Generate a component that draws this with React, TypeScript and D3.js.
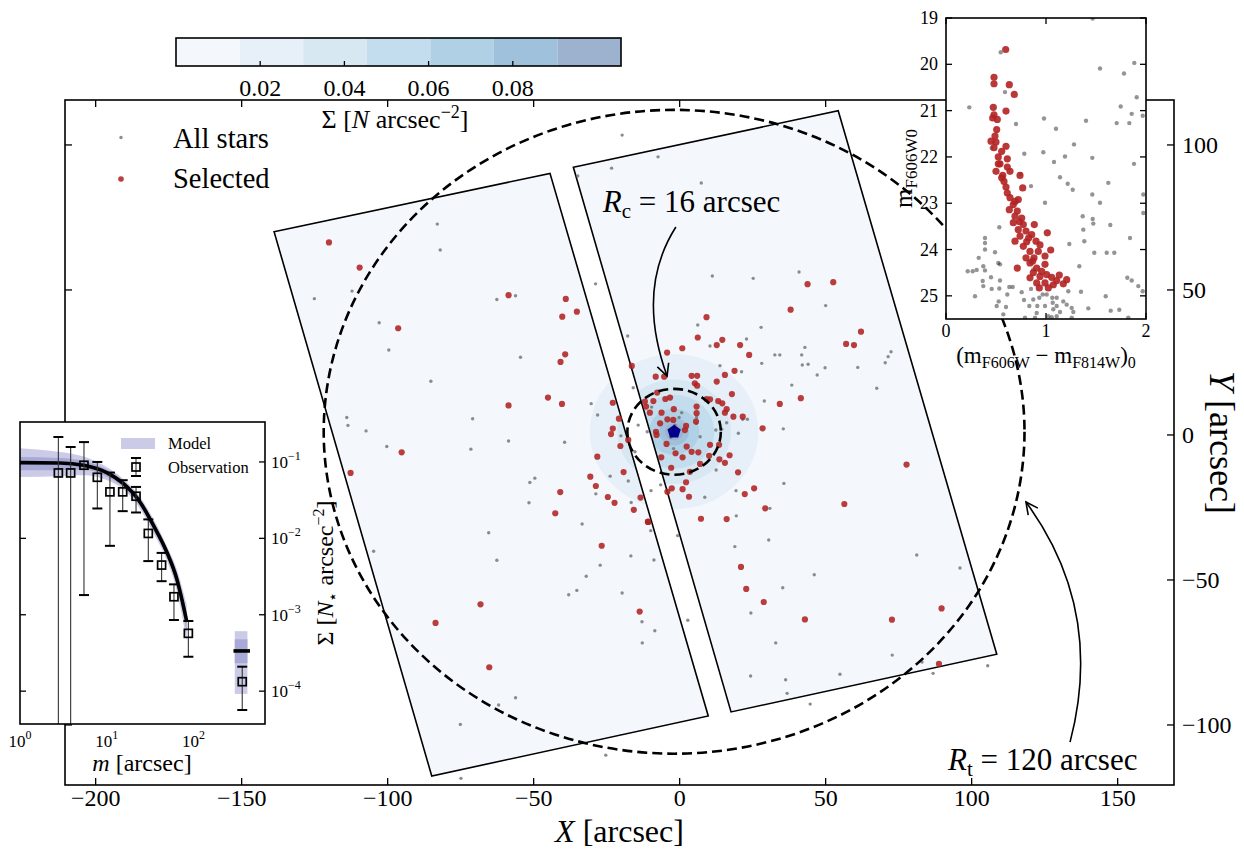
import React from 'react';
import * as d3 from 'd3';

const SERIF = '"Liberation Serif", "Times New Roman", Times, serif';

// ---------------- surface-density colour scale (N arcsec^-2) ----------------
const densityLevels = [0, 0.0151, 0.0302, 0.0453, 0.0604, 0.0755, 0.0906, 0.1057];
const densityColors = ['#f4f8fd', '#e7f0f8', '#d7e8f2', '#c3ddee', '#b0d0e6', '#a0c1dc', '#9cb2cf'];
const densityTicks = [0.02, 0.04, 0.06, 0.08];

// ---------------- cluster geometry (arcsec) ----------------
const clusterCenter: [number, number] = [-1.9, 1.1];
const coreRadius = 16;
const tidalRadius = 120;
const skySquash = 0.925; // vertical axis ratio of the on-sky circles
// density contour boundaries, from the 0.015 level inwards
const contourRadii = [28.9, 19.5, 13.8, 8.6, 5.1, 3.2];

// ACS chip footprints (corners, arcsec)
const chipLeft: [number, number][] = [[-138.9, 70.1], [-44.4, 90.2], [9.8, -96.9], [-84.9, -117.6]];
const chipRight: [number, number][] = [[-36.4, 92.3], [54.3, 111.8], [108.6, -75.6], [17.6, -95.5]];

const xTicks = [-200, -150, -100, -50, 0, 50, 100, 150];
const yTicks = [-100, -50, 0, 50, 100];

// All detected stars (X, Y arcsec)
const allStars: [number, number][] = [
  [-83.0, 72.7], [-82.0, 63.8], [-125.1, 47.0], [-112.2, 49.6], [-102.9, 38.7], [-99.6, 29.3], [-85.2, 18.5],
  [-62.6, 46.7], [-56.2, 48.0], [-54.5, 26.8], [-28.8, 52.1], [-17.8, 34.1], [-15.9, 16.3], [-30.3, 10.8],
  [-28.1, 6.9], [-70.9, 5.6], [-58.6, -2.1], [-39.4, -2.5], [-71.5, -4.9], [-100.3, -4.0], [-114.0, 6.0],
  [-113.6, 3.3], [-107.4, 1.4], [-23.3, 92.0], [-34.9, 89.3], [-20.1, -0.3],
  [-19.7, 103.4], [-7.4, 95.9], [7.4, 86.9], [11.2, 54.8], [25.2, 54.0], [40.9, 56.2], [50.0, 44.6], [6.2, 37.9],
  [27.9, 37.1], [22.9, 33.1], [42.9, 30.2], [32.6, 27.6], [34.3, 27.6], [41.8, 27.6], [42.0, 24.1], [44.0, 24.4],
  [28.1, 24.7], [21.2, 21.8], [49.8, 23.2], [61.0, 23.3], [72.4, 28.7], [71.4, 27.0], [70.4, 24.9], [47.1, 20.7],
  [38.4, 17.2], [67.5, 16.1], [29.0, 11.7], [13.8, 23.9],
  [-51.3, -16.4], [-49.6, -14.9], [-51.6, -23.4], [-33.4, -30.7], [-65.4, -33.7], [-104.8, -40.1], [-62.6, -43.2],
  [-27.2, -44.9], [-32.0, -48.7], [-35.2, -53.6], [-38.0, -55.1], [-19.7, -54.5], [-16.7, -41.7], [-8.8, -43.1],
  [-12.9, -64.4], [-8.5, -67.5], [-12.8, -71.7], [-23.8, -14.2], [-28.7, -20.3], [-17.6, -15.9], [-16.6, -23.3],
  [-9.9, -33.0], [-56.2, -90.6], [-62.0, -93.1], [-75.1, -99.8], [-25.3, -110.4], [-74.9, -118.4],
  [35.5, 2.1], [35.7, -16.7], [30.9, -25.3], [19.4, -27.9], [30.5, -36.2], [18.9, -38.5], [46.1, -48.2],
  [35.3, -52.7], [81.2, -41.4], [96.0, -45.9], [24.4, -61.4], [32.9, -71.7], [72.8, -75.9], [83.0, -78.3],
  [86.8, -82.2], [105.5, -79.6], [54.9, -82.5], [36.3, -84.4], [24.3, -83.1], [36.8, -89.1], [44.7, -92.8],
  [8.6, -21.5], [12.5, -12.1], [20.1, 0.6], [-0.7, -34.7], [2.8, -63.9], [-9.8, -19.2],
  [10.4, 30.7], [21.6, 5.4], [23.2, 5.4], [16.1, 4.2], [12.4, 1.7], [14.4, 2.0], [7.0, -0.6], [5.8, 6.0],
  [5.8, 4.0], [0.7, 7.7], [-0.2, 6.0], [-9.6, 9.6], [-14.2, 3.4], [-11.1, 1.1], [-15.3, -5.8], [-6.5, -17.2],
  [-2.1, -4.7], [19.3, -19.2], [-1.6, 3.4], [-3.0, -0.8], [-10.2, -30.4],
];

// Stars selected as cluster members (X, Y arcsec)
const selectedStars: [number, number][] = [
  [-120.1, 66.4], [-109.6, 57.7], [-96.4, 36.8], [-58.6, 48.2], [-39.0, 46.9], [-35.2, 42.5], [-40.2, 40.8],
  [-39.2, 27.8], [-40.8, 25.2], [-45.1, 12.9], [-40.3, 10.7], [-58.6, 10.2], [-95.2, -6.0], [-22.9, 11.1],
  [-20.8, 5.6], [-22.9, 2.2], [-23.5, 0.3], [-20.3, -3.8], [-28.2, -7.5], [-16.4, 23.8], [-17.6, -1.7],
  [43.8, 52.0], [52.6, 52.7], [38.0, 43.2], [9.2, 40.6], [6.2, 33.6], [12.7, 31.0], [14.6, 32.8], [20.7, 31.0],
  [23.8, 27.6], [0.9, 29.9], [-4.3, 28.4], [62.1, 35.6], [57.0, 31.4], [59.7, 31.0], [18.8, 22.1], [15.5, 20.7],
  [12.7, 18.4], [4.1, 20.4], [6.0, 20.4], [5.2, 17.8], [6.0, 17.0], [-8.2, 20.1], [-5.3, 20.1], [17.9, 14.1],
  [41.5, 12.7], [34.3, 10.7], [9.2, 12.4], [13.2, 11.7], [14.6, 10.9], [16.1, 8.9], [18.4, 6.3], [21.6, 6.3],
  [-7.7, 14.6], [-4.9, 12.4], [-3.3, 12.9], [-2.0, 8.9], [5.8, 9.8],
  [-112.7, -13.1], [-30.6, -14.4], [-28.7, -17.6], [-40.9, -19.7], [-24.6, -21.4], [-22.3, -23.4], [-42.6, -27.0],
  [-19.2, -12.8], [-13.4, -21.6], [-15.7, -25.8], [-10.9, -30.0], [-26.7, -38.2], [-68.2, -58.4], [-83.6, -64.8],
  [-13.7, -60.9], [-65.2, -80.1],
  [28.4, 2.3], [77.7, -10.2], [20.0, -12.9], [25.5, -18.4], [22.3, -20.4], [29.3, -25.3], [56.4, -23.8],
  [7.3, -28.9], [16.1, -29.0], [21.0, -45.5], [22.8, -53.1], [28.8, -57.6], [42.9, -63.6], [72.7, -63.7],
  [89.7, -59.8], [88.8, -78.9], [17.1, -7.0], [15.5, -9.6], [13.6, -8.4], [2.2, -16.3], [1.0, -18.7],
  [-2.7, -18.4], [3.2, -21.3], [3.5, -12.7], [-2.9, -11.3], [10.1, -7.2], [6.4, -6.0], [1.0, -7.7], [-1.4, -6.3],
  [-4.5, -3.1], [2.4, -4.0], [4.1, -5.8], [10.4, -3.4], [13.5, -3.4], [-6.3, -7.7], [7.0, -10.0],
  [-4.2, 5.4], [-2.2, 5.2], [-6.7, 4.0], [-8.1, 1.1], [-7.9, 0.0], [2.2, 3.1], [1.8, 1.7], [5.8, 7.5], [5.6, 4.6],
  [-6.2, 7.7], [-10.2, 7.7], [-9.0, 11.7], [-11.9, 11.5], [-11.5, 9.8], [10.4, 12.3], [15.5, 7.7], [-4.2, -19.6],
  [-10.8, -29.9],
];

// ---------------- colour-magnitude diagram ----------------
const cmdAll: [number, number][] = [
  [1.467, 19.01], [0.547, 19.74], [0.59, 20.6], [1.54, 20.09], [1.78, 20.2], [1.883, 19.97], [1.907, 20.71],
  [1.747, 20.91], [0.233, 20.93], [0.70, 21.29], [0.98, 21.17], [1.10, 21.39], [1.40, 21.22], [1.967, 21.11],
  [1.857, 21.07], [1.707, 21.27], [1.833, 21.27], [1.28, 21.73], [0.783, 21.93], [0.973, 21.9], [1.19, 21.99],
  [1.08, 22.11], [1.463, 22.02], [1.88, 22.15], [1.14, 22.44], [1.217, 22.58], [1.267, 22.71], [0.747, 22.37],
  [0.85, 22.63], [1.623, 22.56], [1.463, 22.81], [0.99, 22.99], [1.54, 22.99], [1.973, 22.81], [1.973, 23.21],
  [1.367, 23.28], [1.467, 23.34], [1.473, 23.44], [1.643, 23.47], [1.373, 23.57], [1.383, 23.82], [1.233, 23.88],
  [0.533, 23.52], [1.84, 23.75], [0.39, 23.75], [0.39, 23.86], [0.39, 24.0], [0.327, 24.18], [0.49, 24.06],
  [0.523, 24.29], [0.54, 24.32], [0.267, 24.47], [0.217, 24.47], [0.307, 24.44], [0.39, 24.45], [0.367, 24.68],
  [0.45, 24.6], [0.54, 24.67], [0.373, 24.79], [0.457, 24.85], [0.533, 24.84], [0.633, 24.81], [0.29, 25.01],
  [0.527, 25.12], [0.613, 24.97], [0.667, 24.81], [0.757, 24.92], [0.85, 24.85], [0.78, 25.09], [0.873, 25.08],
  [0.933, 25.04], [0.967, 24.97], [1.007, 24.97], [1.063, 25.04], [1.107, 25.04], [1.173, 25.12], [1.223, 24.9],
  [1.35, 24.91], [1.067, 25.15], [1.107, 25.22], [1.207, 25.19], [1.257, 25.26], [1.273, 25.35], [1.14, 25.35],
  [1.073, 25.29], [1.023, 25.44], [1.057, 25.46], [1.107, 25.44], [0.907, 25.37], [0.833, 25.22], [0.913, 25.22],
  [0.99, 25.22], [0.79, 25.47], [0.6, 25.24], [0.507, 25.22], [0.573, 25.4], [0.89, 25.47], [1.257, 25.47],
  [1.423, 25.27], [1.597, 25.01], [1.647, 25.32], [1.733, 25.3], [1.823, 25.47], [1.813, 24.61], [1.857, 24.67],
  [1.923, 24.79], [1.967, 24.9], [1.333, 24.36], [1.483, 24.07], [1.607, 24.07], [1.683, 24.07], [0.873, 24.43],
  [0.457, 21.81], [0.373, 24.36],
];
const cmdSelected: [number, number][] = [
  [0.597, 19.68], [0.48, 20.28], [0.48, 20.42], [0.633, 20.44], [0.683, 20.65], [0.6, 21.01], [0.473, 20.93],
  [0.48, 21.09], [0.513, 21.19], [0.467, 21.16], [0.507, 21.41], [0.49, 21.55], [0.45, 21.66], [0.5, 21.68],
  [0.48, 21.8], [0.6, 21.77], [0.557, 21.88], [0.613, 22.04], [0.54, 22.15], [0.613, 22.22], [0.5, 22.31],
  [0.567, 22.4], [0.523, 22.15], [0.74, 22.4], [0.58, 22.53], [0.6, 22.65], [0.767, 22.67], [0.613, 22.78],
  [0.64, 22.88], [0.723, 22.92], [0.673, 23.03], [0.633, 23.14], [0.713, 23.17], [0.69, 23.28], [0.733, 23.4],
  [0.673, 23.42], [0.773, 23.46], [0.883, 23.46], [0.723, 23.57], [0.8, 23.6], [0.74, 23.71], [0.857, 23.68],
  [1.013, 23.64], [0.69, 23.82], [0.807, 23.83], [0.9, 23.82], [0.773, 23.93], [0.84, 24.04], [0.923, 24.04],
  [1.047, 24.01], [0.8, 24.18], [0.88, 24.18], [0.99, 24.14], [0.84, 24.29], [0.907, 24.4], [0.713, 24.4],
  [0.99, 24.32], [0.873, 24.5], [0.94, 24.58], [1.007, 24.54], [0.84, 24.61], [1.133, 24.55], [1.207, 24.65],
  [0.907, 24.72], [0.99, 24.72], [1.073, 24.76], [1.173, 24.74], [0.933, 24.83], [1.023, 24.83], [1.107, 24.67],
  [0.523, 22.0], [0.64, 22.31], [0.557, 22.45], [0.69, 22.96], [0.757, 23.32], [0.827, 23.75], [0.94, 23.9],
  [0.867, 24.25], [0.957, 24.47], [1.057, 24.6],
];
const cmdColorTicks = [0, 1, 2];
const cmdMagTicks = [19, 20, 21, 22, 23, 24, 25];

// ---------------- radial surface-density profile ----------------
const profileR = [1, 2.9, 5.4, 10, 15.5, 24.2, 34.5, 49.2, 64.1, 83.7];
const profileSigma = [0.098, 0.097, 0.0906, 0.0726, 0.0523, 0.030, 0.0149, 0.00667, 0.00299, 0.000828];
const profileOuterHi = [0.151, 0.135, 0.118, 0.086, 0.060, 0.035, 0.0180, 0.0080, 0.0040, 0.00134];
const profileOuterLo = [0.0637, 0.065, 0.067, 0.058, 0.044, 0.0246, 0.0118, 0.0052, 0.0021, 0.00045];
const profileInnerHi = [0.116, 0.113, 0.103, 0.080, 0.057, 0.0325, 0.0166, 0.0074, 0.0036, 0.00109];
const profileInnerLo = [0.078, 0.078, 0.079, 0.064, 0.047, 0.0266, 0.0131, 0.0058, 0.0025, 0.00060];
// field background bin
const bgBarR = [290, 450];
const bgBandR = [300, 420];
const bgSigma = 3.36e-4;
const bgOuter = [9.2e-5, 6.1e-4];
const bgInner = [2.32e-4, 4.77e-4];
// observed binned profile
const obsR = [2.77, 3.84, 5.47, 7.8, 10.9, 15.3, 21.8, 30.2, 43, 59.7, 87.5, 366];
const obsSigma = [0.0718, 0.0718, 0.0906, 0.063, 0.0406, 0.0406, 0.0356, 0.0116, 0.00447, 0.00172, 0.000571, 0.000133];
const obsUpper = [0.212, 0.157, 0.182, 0.100, 0.0726, 0.0577, 0.0471, 0.0177, 0.00645, 0.0025, 0.000828, 0.000209];
const obsLower = [0, 0, 0.00181, 0.0246, 0.00798, 0.0227, 0.0218, 0.00504, 0.00275, 0.000853, 0.000282, 5.67e-5];
const profileRTicks = [0, 1, 2];
const profileSigmaTicks = [-1, -2, -3, -4];

const BAND_OUTER = '#cbcbe7';
const BAND_INNER = '#a9a9d7';

const minus = (v: number) => (v < 0 ? `\u2212${-v}` : `${v}`);

export default function App() {
  // ---- main sky panel ----
  const M = { left: 65, right: 1174, top: 100, bottom: 785 };
  const x = d3.scaleLinear().domain([-210.5, 169.3]).range([M.left, M.right]);
  const y = d3.scaleLinear().domain([-120.7, 115.5]).range([M.bottom, M.top]);
  const [cx, cy] = clusterCenter;
  const ell = (r: number) => ({
    cx: x(cx),
    cy: y(cy),
    rx: x(cx + r) - x(cx),
    ry: y(cy) - y(cy + r * skySquash),
  });
  const poly = (pts: [number, number][]) => pts.map(([a, b]) => `${x(a)},${y(b)}`).join(' ');

  const pent = d3.range(5).map((i) => {
    const a = -Math.PI / 2 + (i * 2 * Math.PI) / 5;
    return `${x(cx) + 7 * Math.cos(a)},${y(cy) + 7 * Math.sin(a)}`;
  }).join(' ');

  const rcArrow = `M${x(-1.3)},${y(71.7)} Q${x(-15.0)},${y(50.0)} ${x(-4.3)},${y(20.3)}`;
  const rtArrow = `M${x(133.7)},${y(-105.9)} Q${x(145.6)},${y(-60.3)} ${x(118.6)},${y(-23.1)}`;

  // ---- colour bar ----
  const cb = { left: 176, right: 621, top: 38, bottom: 66 };
  const xc = d3.scaleLinear().domain([densityLevels[0], densityLevels[densityLevels.length - 1]]).range([cb.left, cb.right]);

  // ---- CMD inset ----
  const C = { left: 946, right: 1146, top: 18, bottom: 319 };
  const xm = d3.scaleLinear().domain([0, 2]).range([C.left, C.right]);
  const ym = d3.scaleLinear().domain([19, 25.5]).range([C.top, C.bottom]);

  // ---- profile inset ----
  const P = { left: 20, right: 265, top: 422, bottom: 724 };
  const xp = d3.scaleLog().domain([1, 670]).range([P.left, P.right]);
  const yp = d3.scaleLog().domain([10 ** -4.43, 10 ** -0.477]).range([P.bottom, P.top]);
  const idx = d3.range(profileR.length);
  const bandArea = (lo: number[], hi: number[]) =>
    d3.area<number>().x((i) => xp(profileR[i])).y0((i) => yp(lo[i])).y1((i) => yp(hi[i])).curve(d3.curveMonotoneX)(idx) || '';
  const modelLine = d3.line<number>().x((i) => xp(profileR[i])).y((i) => yp(profileSigma[i])).curve(d3.curveMonotoneX)(idx) || '';

  const tick = { stroke: '#000', strokeWidth: 1.3 };

  return (
    <svg width={1244} height={849} style={{ position: 'absolute', left: 0, top: 0, display: 'block' }} fontFamily={SERIF}>
      <defs>
        <clipPath id="chips">
          <polygon points={poly(chipLeft)} />
          <polygon points={poly(chipRight)} />
        </clipPath>
        <clipPath id="mainClip">
          <rect x={M.left} y={M.top} width={M.right - M.left} height={M.bottom - M.top} />
        </clipPath>
        <clipPath id="cmdClip">
          <rect x={C.left} y={C.top} width={C.right - C.left} height={C.bottom - C.top} />
        </clipPath>
        <clipPath id="profClip">
          <rect x={P.left} y={P.top} width={P.right - P.left} height={P.bottom - P.top} />
        </clipPath>
        <marker id="openArrow" markerUnits="userSpaceOnUse" markerWidth={16} markerHeight={16}
          viewBox="0 0 16 16" refX={14} refY={8} orient="auto">
          <path d="M2,2 L14,8 L2,14" fill="none" stroke="#000" strokeWidth={1.6} />
        </marker>
      </defs>
      <rect x={0} y={0} width={1244} height={849} fill="#fff" />

      {/* ---------- sky panel ---------- */}
      <g clipPath="url(#mainClip)">
        <polygon points={poly(chipLeft)} fill={densityColors[0]} />
        <polygon points={poly(chipRight)} fill={densityColors[0]} />
        <g clipPath="url(#chips)">
          {contourRadii.map((r, i) => (
            <ellipse key={i} {...ell(r)} fill={densityColors[i + 1]} />
          ))}
        </g>
        <polygon points={poly(chipLeft)} fill="none" stroke="#000" strokeWidth={1.6} />
        <polygon points={poly(chipRight)} fill="none" stroke="#000" strokeWidth={1.6} />
        {allStars.map(([a, b], i) => (
          <circle key={`a${i}`} cx={x(a)} cy={y(b)} r={1.7} fill="#6f6f6f" fillOpacity={0.8} />
        ))}
        {selectedStars.map(([a, b], i) => (
          <circle key={`s${i}`} cx={x(a)} cy={y(b)} r={3.1} fill="#b22222" fillOpacity={0.88} />
        ))}
        <polygon points={pent} fill="#00008b" />
        <ellipse {...ell(coreRadius)} fill="none" stroke="#000" strokeWidth={2.6} strokeDasharray="10 5" />
        <ellipse {...ell(tidalRadius)} fill="none" stroke="#000" strokeWidth={2.6} strokeDasharray="10 5" />
        <path d={rcArrow} fill="none" stroke="#000" strokeWidth={1.6} markerEnd="url(#openArrow)" />
        <path d={rtArrow} fill="none" stroke="#000" strokeWidth={1.6} markerEnd="url(#openArrow)" />
      </g>
      <text x={x(-26.3)} y={y(77.0)} fontSize={31}>
        <tspan fontStyle="italic">R</tspan>
        <tspan fontSize={21} dy={6}>c</tspan>
        <tspan dy={-6}> = 16 arcsec</tspan>
      </text>
      <text x={x(91.9)} y={y(-115.5)} fontSize={31}>
        <tspan fontStyle="italic">R</tspan>
        <tspan fontSize={21} dy={6}>t</tspan>
        <tspan dy={-6}> = 120 arcsec</tspan>
      </text>

      {/* frame and ticks */}
      <rect x={M.left} y={M.top} width={M.right - M.left} height={M.bottom - M.top} fill="none" stroke="#000" strokeWidth={1.6} />
      {xTicks.map((t) => (
        <g key={`xt${t}`}>
          <line x1={x(t)} x2={x(t)} y1={M.bottom} y2={M.bottom - 7} {...tick} />
          <line x1={x(t)} x2={x(t)} y1={M.top} y2={M.top + 7} {...tick} />
          <text x={x(t)} y={806} fontSize={24} textAnchor="middle">{minus(t)}</text>
        </g>
      ))}
      {yTicks.map((t) => (
        <g key={`yt${t}`}>
          <line x1={M.left} x2={M.left + 7} y1={y(t)} y2={y(t)} {...tick} />
          <line x1={M.right} x2={M.right - 7} y1={y(t)} y2={y(t)} {...tick} />
          <text x={M.right + 8} y={y(t) + 8} fontSize={24}>{minus(t)}</text>
        </g>
      ))}
      <text x={(M.left + M.right) / 2} y={842} fontSize={32} textAnchor="middle">
        <tspan fontStyle="italic">X</tspan> [arcsec]
      </text>
      <text transform={`translate(1210,${(M.top + M.bottom) / 2}) rotate(90)`} fontSize={36} textAnchor="middle">
        <tspan fontStyle="italic">Y</tspan> [arcsec]
      </text>

      {/* legend */}
      <circle cx={121} cy={137.5} r={1.7} fill="#6f6f6f" fillOpacity={0.8} />
      <text x={173} y={147.5} fontSize={28.5}>All stars</text>
      <circle cx={121} cy={179} r={2.8} fill="#b22222" fillOpacity={0.88} />
      <text x={173} y={188} fontSize={28.5}>Selected</text>

      {/* ---------- colour bar ---------- */}
      {densityColors.map((c, i) => (
        <rect key={`cb${i}`} x={xc(densityLevels[i])} y={cb.top} width={xc(densityLevels[i + 1]) - xc(densityLevels[i])}
          height={cb.bottom - cb.top} fill={c} />
      ))}
      <rect x={cb.left} y={cb.top} width={cb.right - cb.left} height={cb.bottom - cb.top} fill="none" stroke="#000" strokeWidth={1.6} />
      {densityTicks.map((t) => (
        <g key={`cbt${t}`}>
          <line x1={xc(t)} x2={xc(t)} y1={cb.bottom} y2={cb.bottom - 5} {...tick} />
          <text x={xc(t)} y={96} fontSize={24} textAnchor="middle">{t.toFixed(2)}</text>
        </g>
      ))}
      <text x={395} y={128} fontSize={26} textAnchor="middle">
        Σ [<tspan fontStyle="italic">N</tspan> arcsec<tspan fontSize={18} dy={-10}>−2</tspan><tspan dy={10}>]</tspan>
      </text>

      {/* ---------- CMD inset ---------- */}
      <rect x={C.left} y={C.top} width={C.right - C.left} height={C.bottom - C.top} fill="#fff" />
      <g clipPath="url(#cmdClip)">
        {cmdAll.map(([c, m], i) => (
          <circle key={`ca${i}`} cx={xm(c)} cy={ym(m)} r={2.2} fill="#000" fillOpacity={0.42} />
        ))}
        {cmdSelected.map(([c, m], i) => (
          <circle key={`cs${i}`} cx={xm(c)} cy={ym(m)} r={3.6} fill="#b22222" fillOpacity={0.9} />
        ))}
      </g>
      <rect x={C.left} y={C.top} width={C.right - C.left} height={C.bottom - C.top} fill="none" stroke="#000" strokeWidth={1.6} />
      {cmdColorTicks.map((t) => (
        <g key={`cx${t}`}>
          <line x1={xm(t)} x2={xm(t)} y1={C.bottom} y2={C.bottom - 6} {...tick} />
          <line x1={xm(t)} x2={xm(t)} y1={C.top} y2={C.top + 6} {...tick} />
          <text x={xm(t)} y={337} fontSize={18} textAnchor="middle">{t}</text>
        </g>
      ))}
      {cmdMagTicks.map((t) => (
        <g key={`cy${t}`}>
          <line x1={C.left} x2={C.left + 6} y1={ym(t)} y2={ym(t)} {...tick} />
          <line x1={C.right} x2={C.right - 6} y1={ym(t)} y2={ym(t)} {...tick} />
          <text x={938} y={ym(t) + 6} fontSize={18} textAnchor="end">{t}</text>
        </g>
      ))}
      <text transform={`translate(912,${(C.top + C.bottom) / 2}) rotate(-90)`} fontSize={25} textAnchor="middle">
        m<tspan fontSize={17} dy={5}>F606W0</tspan>
      </text>
      <text x={1046} y={363} fontSize={23} textAnchor="middle">
        (m<tspan fontSize={16} dy={5}>F606W</tspan><tspan dy={-5}> − m</tspan><tspan fontSize={16} dy={5}>F814W</tspan><tspan dy={-5}>)</tspan><tspan fontSize={16} dy={5}>0</tspan>
      </text>

      {/* ---------- radial profile inset ---------- */}
      <rect x={P.left} y={P.top} width={P.right - P.left} height={P.bottom - P.top} fill="#fff" />
      <g clipPath="url(#profClip)">
        <path d={bandArea(profileOuterLo, profileOuterHi)} fill={BAND_OUTER} />
        <path d={bandArea(profileInnerLo, profileInnerHi)} fill={BAND_INNER} />
        <rect x={xp(bgBandR[0])} width={xp(bgBandR[1]) - xp(bgBandR[0])} y={yp(bgOuter[1])} height={yp(bgOuter[0]) - yp(bgOuter[1])} fill={BAND_OUTER} />
        <rect x={xp(bgBandR[0])} width={xp(bgBandR[1]) - xp(bgBandR[0])} y={yp(bgInner[1])} height={yp(bgInner[0]) - yp(bgInner[1])} fill={BAND_INNER} />
        <path d={modelLine} fill="none" stroke="#000" strokeWidth={3.6} />
        <line x1={xp(bgBarR[0])} x2={xp(bgBarR[1])} y1={yp(bgSigma)} y2={yp(bgSigma)} stroke="#000" strokeWidth={3.6} />
        {obsR.map((r, i) => {
          const px = xp(r);
          const top = yp(obsUpper[i]);
          const bot = obsLower[i] > 0 ? yp(obsLower[i]) : P.bottom + 2;
          return (
            <g key={`ob${i}`}>
              <line x1={px} x2={px} y1={top} y2={bot} stroke="#333" strokeWidth={1.1} />
              <line x1={px - 5} x2={px + 5} y1={top} y2={top} stroke="#000" strokeWidth={2} />
              {obsLower[i] > 0 && <line x1={px - 5} x2={px + 5} y1={bot} y2={bot} stroke="#000" strokeWidth={2} />}
              <rect x={px - 4} y={yp(obsSigma[i]) - 4} width={8} height={8} fill="none" stroke="#000" strokeWidth={1.7} />
            </g>
          );
        })}
      </g>
      <rect x={P.left} y={P.top} width={P.right - P.left} height={P.bottom - P.top} fill="none" stroke="#000" strokeWidth={1.6} />
      {profileSigmaTicks.map((k) => (
        <g key={`py${k}`}>
          <line x1={P.left} x2={P.left + 6} y1={yp(10 ** k)} y2={yp(10 ** k)} {...tick} />
          <line x1={P.right} x2={P.right - 6} y1={yp(10 ** k)} y2={yp(10 ** k)} {...tick} />
          <text x={271} y={yp(10 ** k) + 6} fontSize={17}>
            10<tspan fontSize={12} dy={-8}>{minus(k)}</tspan>
          </text>
        </g>
      ))}
      {profileRTicks.map((k) => (
        <text key={`px${k}`} x={xp(10 ** k)} y={747} fontSize={17} textAnchor="middle">
          10<tspan fontSize={12} dy={-8}>{k}</tspan>
        </text>
      ))}
      <text x={142} y={771} fontSize={24} textAnchor="middle">
        <tspan fontStyle="italic">m</tspan> [arcsec]
      </text>
      <text transform={`translate(333,${(P.top + P.bottom) / 2}) rotate(-90)`} fontSize={24} textAnchor="middle">
        Σ [<tspan fontStyle="italic">N</tspan><tspan fontSize={16} dy={5}>⋆</tspan><tspan dy={-5}> arcsec</tspan><tspan fontSize={16} dy={-9}>−2</tspan><tspan dy={9}>]</tspan>
      </text>
      {/* profile legend */}
      <rect x={121} y={438} width={34} height={11} fill={BAND_OUTER} />
      <text x={168} y={449} fontSize={16.5}>Model</text>
      <line x1={136} x2={136} y1={458} y2={476} stroke="#333" strokeWidth={1.1} />
      <line x1={131} x2={141} y1={458} y2={458} stroke="#000" strokeWidth={2} />
      <line x1={131} x2={141} y1={476} y2={476} stroke="#000" strokeWidth={2} />
      <rect x={132} y={463} width={8} height={8} fill="none" stroke="#000" strokeWidth={1.7} />
      <text x={168} y={473} fontSize={16.5}>Observation</text>
    </svg>
  );
}
